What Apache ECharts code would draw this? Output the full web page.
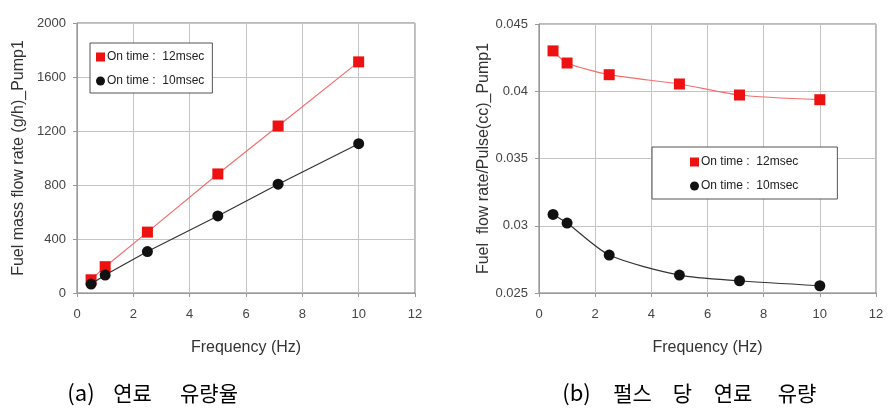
<!DOCTYPE html>
<html>
<head>
<meta charset="utf-8">
<script src="https://cdn.jsdelivr.net/npm/echarts@6/dist/echarts.min.js"></script>
<style>
html,body{margin:0;padding:0;background:#fff;}
#c{width:893px;height:419px;}
</style>
</head>
<body>
<div id="c"></div>
<script>
// ---- data ----
var freq = [0.5, 1, 2.5, 5, 7.14, 10];
var seriesNames = ['On time :  12msec', 'On time :  10msec'];
var massFlow12 = [98, 195, 451, 882, 1237, 1712];
var massFlow10 = [66, 133, 307, 571, 806, 1106];
var pulseFlow12 = [0.0430, 0.0421, 0.04123, 0.04054, 0.03972, 0.03937];
var pulseFlow10 = [0.03084, 0.0302, 0.02782, 0.02633, 0.02591, 0.02554];
var xTicks = [0, 2, 4, 6, 8, 10, 12];
var leftYTicks = [0, 400, 800, 1200, 1600, 2000];
var rightYTicks = [0.025, 0.03, 0.035, 0.04, 0.045];
var xTitle = 'Frequency (Hz)';
var leftYTitle = 'Fuel mass flow rate (g/h)_Pump1';
var rightYTitle = 'Fuel  flow rate/Pulse(cc)_Pump1';
var captionA = ['(a)', '연료', '유량율'];
var captionB = ['(b)', '펄스', '당', '연료', '유량'];

function pairs(xs, ys) { return xs.map(function (x, i) { return [x, ys[i]]; }); }

var FONT = 'Liberation Sans, Arial, sans-serif';
var KFONT = 'Noto Sans CJK KR';

function fmt(v) { return String(parseFloat(Number(v).toFixed(4))); }

function xAxis(gi) {
  return {
    type: 'value', gridIndex: gi,
    min: xTicks[0], max: xTicks[xTicks.length - 1], interval: xTicks[1] - xTicks[0],
    name: xTitle, nameLocation: 'middle', nameGap: 47,
    nameTextStyle: { fontFamily: FONT, fontSize: 16, color: '#333' },
    axisLine: { show: true, lineStyle: { color: '#999', width: 1 } },
    axisTick: { show: true, length: 4, lineStyle: { color: '#999' } },
    axisLabel: { fontFamily: FONT, fontSize: 13, color: '#444', margin: 15, formatter: fmt },
    splitLine: { show: true, lineStyle: { color: '#c4c4c4', width: 1 } }
  };
}
function yAxis(gi, ticks, title, gap) {
  return {
    type: 'value', gridIndex: gi,
    min: ticks[0], max: ticks[ticks.length - 1],
    interval: ticks[1] - ticks[0],
    name: title, nameLocation: 'middle', nameGap: gap,
    nameTextStyle: { fontFamily: FONT, fontSize: 16, color: '#333' },
    axisLine: { show: true, lineStyle: { color: '#999', width: 1 } },
    axisTick: { show: true, length: 4, lineStyle: { color: '#999' } },
    axisLabel: { fontFamily: FONT, fontSize: 13, color: '#444', margin: 11, formatter: fmt },
    splitLine: { show: true, lineStyle: { color: '#c4c4c4', width: 1 } }
  };
}
function ser(name, gi, ys, isRed, smooth) {
  return {
    name: name, type: 'line', xAxisIndex: gi, yAxisIndex: gi,
    data: pairs(freq, ys), smooth: smooth,
    symbol: isRed ? 'rect' : 'circle', symbolSize: 11, showAllSymbol: true,
    itemStyle: { color: isRed ? '#ee1111' : '#111111' },
    lineStyle: { color: isRed ? '#f07070' : '#333333', width: 1.2 },
    z: isRed ? 3 : 4, animation: false
  };
}
function legend(left, top, padding) {
  return {
    left: left, top: top, orient: 'vertical',
    data: [
      { name: seriesNames[0], icon: 'rect', itemStyle: { color: '#ee1111' } },
      { name: seriesNames[1], icon: 'circle', itemStyle: { color: '#111111' } }
    ],
    itemWidth: 9, itemHeight: 9, itemGap: 12,
    padding: padding, backgroundColor: '#fff',
    borderColor: '#555', borderWidth: 1, borderRadius: 0,
    textStyle: { fontFamily: FONT, fontSize: 12, color: '#222', padding: [0, 0, 0, -3] },
    selectedMode: false
  };
}
function capText(x, txt, size) {
  return {
    type: 'text', x: x, y: 393,
    style: { text: txt, fontFamily: KFONT, fontSize: size, fill: '#000', align: 'center', verticalAlign: 'middle' }
  };
}

var graphics = [
  capText(81, captionA[0], 22), capText(132.5, captionA[1], 21), capText(209, captionA[2], 21),
  capText(576.5, captionB[0], 22), capText(632.5, captionB[1], 21), capText(682.5, captionB[2], 21),
  capText(733, captionB[3], 21), capText(797, captionB[4], 21)
];

var chart = echarts.init(document.getElementById('c'), null, { renderer: 'canvas' });
chart.setOption({
  animation: false,
  backgroundColor: '#fff',
  grid: [
    { left: 77, top: 23, width: 338, height: 270, show: true, borderColor: '#777', borderWidth: 1, backgroundColor: 'transparent' },
    { left: 539, top: 24, width: 337, height: 269, show: true, borderColor: '#777', borderWidth: 1, backgroundColor: 'transparent' }
  ],
  xAxis: [xAxis(0), xAxis(1)],
  yAxis: [yAxis(0, leftYTicks, leftYTitle, 50), yAxis(1, rightYTicks, rightYTitle, 47)],
  legend: [legend(90, 43, [8, 8, 6, 6]), legend(652, 147, [9, 39, 7, 38])],
  series: [
    ser(seriesNames[0], 0, massFlow12, true, false),
    ser(seriesNames[1], 0, massFlow10, false, false),
    ser(seriesNames[0], 1, pulseFlow12, true, 0.25),
    ser(seriesNames[1], 1, pulseFlow10, false, 0.25)
  ],
  graphic: graphics
});
</script>
</body>
</html>
